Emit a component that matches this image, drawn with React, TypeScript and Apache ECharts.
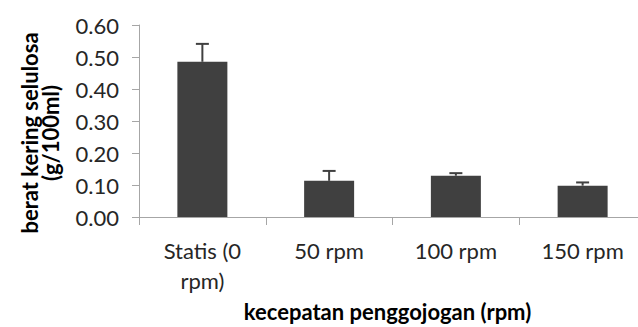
import React, { useEffect, useRef } from "react";
import * as echarts from "echarts";

const categories = ["Statis (0\nrpm)", "50 rpm", "100 rpm", "150 rpm"];
const means = [0.485, 0.113, 0.129, 0.098];
const errors = [0.056, 0.031, 0.008, 0.01];
const yTicks = { min: 0, max: 0.6, interval: 0.1 };

const FONT = "Lato, 'Open Sans', sans-serif";

export default function App() {
  const ref = useRef<HTMLDivElement>(null);
  useEffect(() => {
    if (!ref.current) return;
    const chart = echarts.init(ref.current, undefined, { renderer: "svg" });
    chart.setOption({
      animation: false,
      backgroundColor: "#ffffff",
      grid: {
        left: 139,
        right: -8,
        top: 25,
        bottom: 110,
        containLabel: false,
        outerBoundsMode: "none",
      },
      xAxis: {
        type: "category",
        data: categories,
        axisLine: { show: true, lineStyle: { color: "#a6a6a6", width: 1 } },
        axisTick: { show: true, length: 8, lineStyle: { color: "#a6a6a6" } },
        axisLabel: {
          interval: 0,
          margin: 18,
          fontFamily: FONT,
          fontSize: 22,
          lineHeight: 30,
          color: "#262626",
        },
        name: "kecepatan penggojogan (rpm)",
        nameLocation: "middle",
        nameGap: 83,
        nameTextStyle: {
          fontFamily: FONT,
          fontSize: 22,
          fontWeight: "bold",
          color: "#000000",
          padding: [0, 10, 0, 0],
        },
      },
      yAxis: {
        type: "value",
        min: yTicks.min,
        max: yTicks.max,
        interval: yTicks.interval,
        axisLine: { show: true, lineStyle: { color: "#a6a6a6", width: 1 } },
        axisTick: { show: true, length: 7, lineStyle: { color: "#a6a6a6" } },
        splitLine: { show: false },
        axisLabel: {
          margin: 20,
          fontFamily: FONT,
          fontSize: 22,
          color: "#262626",
          formatter: (v: number) => v.toFixed(2),
        },
      },
      graphic: [
        {
          type: "text",
          x: 40,
          y: 133,
          rotation: Math.PI / 2,
          style: {
            text: "berat kering selulosa\n(g/100ml)",
            fontFamily: FONT,
            fontSize: 22,
            fontWeight: "bold",
            lineHeight: 21,
            fill: "#000000",
            align: "center",
            verticalAlign: "middle",
          },
        },
      ],
      series: [
        {
          type: "bar",
          data: means,
          barWidth: 50,
          itemStyle: { color: "#404040" },
        },
        {
          type: "custom",
          data: means.map((m, i) => [i, m, errors[i]]),
          encode: { x: 0, y: 1 },
          z: 3,
          renderItem: (params: any, api: any) => {
            const x = api.value(0);
            const y = api.value(1);
            const e = api.value(2);
            const p0 = api.coord([x, y]);
            const p1 = api.coord([x, y + e]);
            const style = { stroke: "#404040", lineWidth: 2 };
            return {
              type: "group",
              children: [
                { type: "line", shape: { x1: p0[0], y1: p0[1], x2: p1[0], y2: p1[1] }, style },
                { type: "line", shape: { x1: p1[0] - 6.5, y1: p1[1], x2: p1[0] + 6.5, y2: p1[1] }, style },
              ],
            };
          },
        },
      ],
    });
    return () => chart.dispose();
  }, []);
  return (
    <div
      ref={ref}
      style={{ position: "absolute", left: 0, top: 0, width: 638, height: 327 }}
    />
  );
}
